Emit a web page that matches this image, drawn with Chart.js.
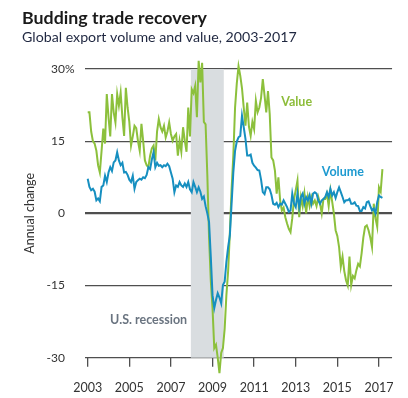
<!DOCTYPE html>
<html>
<head>
<meta charset="utf-8">
<script src="https://cdn.jsdelivr.net/npm/chart.js@4"></script>
<style>
    html, body { margin: 0; padding: 0; background: #fff; }
    #wrap { width: 408px; height: 398px; position: relative; }
</style>
</head>
<body>
<div id="wrap"><canvas id="tradeChart"></canvas></div>
<script>
// data, one value per month from Jan 2003
const startYear = 2003;
const yearTicks = [2003, 2005, 2007, 2009, 2011, 2013, 2015, 2017];
const valueTicks = [-30, -15, 0, 15, 30];
const recession = [2007 + 11.5 / 12, 2009 + 6.5 / 12];

const valueSeries = [
    21, 21, 17, 15, 14.5, 13, 10, 8.5, 13, 17.6, 14.5, 24.8,
    20, 16, 24.8, 21, 18.9, 24.8, 22.4, 25.1, 20, 16.1, 26.1, 22,
    19, 14.1, 16, 18.2, 17.7, 15, 13, 18.6, 15, 11, 10, 9.6,
    12, 13.5, 14.1, 11, 17, 19.6, 17.9, 17, 18.2, 15.8, 17, 18.9,
    16.5, 15.1, 16, 16.5, 12, 15.1, 12.8, 17.9, 15.1, 12.8, 22, 16,
    25.8, 25, 26.5, 20, 31.7, 27.2, 31.3, 19, 18.5, 8, -5, -14,
    -19.7, -28, -27.3, -30, -33.2, -29, -28, -24, -17, -12, -4, 5,
    12, 22, 27, 30.6, 28.6, 26, 22, 18.2, 23, 18, 16.1, 19,
    17.5, 23.4, 21, 22, 24, 27.9, 24.5, 21, 25.4, 20.6, 11.6, 11,
    8.9, 4.1, 7.5, 2.7, 0.6, 1.2, -0.8, -2.1, -3.2, -3.9, -1, 2.9,
    4.8, 6.8, -0.8, 3.4, 1.5, 4.1, 0, 3.4, 1.5, 3.4, 2, 2.7,
    1.5, 3.4, 2.1, 0, 3, 3, 4.1, 1.5, 4.8, 2.5, 0, -3.5,
    -4.7, -7, -11.1, -9, -12, -13.9, -15, -9, -14.9, -13, -13.5, -11.8,
    -10.5, -11, -8.3, -5, -2.8, -2.5, -3.5, -5, -7, 2, -1, -2.8,
    5.4, 4.5, 9.2
];

const volumeSeries = [
    7.2, 5.5, 4.8, 5.1, 4.5, 2.7, 3.1, 2.5, 5.5, 5.8, 7.8, 6.5,
    8.5, 9.6, 8.8, 10.6, 11, 12.7, 11, 10, 10.5, 8.5, 8.6, 8,
    7, 6.5, 7.8, 5.1, 6.5, 6.9, 7.2, 7, 7.5, 7.3, 8, 9.6,
    9.2, 11.2, 12.7, 9.6, 10.5, 9.9, 10, 9.6, 10, 9.8, 10.3, 9.8,
    8.5, 7.2, 4.4, 5.8, 5.5, 6.5, 5.8, 5.5, 6.2, 5.5, 6.5, 5,
    4.4, 6.5, 5.5, 4.4, 5.4, 4.5, 3, 3.5, 1.5, 0, -1.8, -9,
    -17, -19.7, -18, -16.6, -17.5, -18.7, -14.9, -14.2, -10.1, -7, -4.6, 2,
    8.5, 13, 14.9, 15.8, 16.1, 20.3, 17.9, 15.5, 12, 12, 12.2, 10.5,
    9.9, 9.5, 9, 8.9, 7, 4.4, 4, 5.4, 5.4, 5, 3.8, 2,
    1.8, 2.2, 1.3, 2, 1.8, 2.7, 2, 1.3, 0.3, 0.6, 4.1, 2,
    1.3, 4.1, 1.3, 3.4, 4.1, 2, 3.4, 2.7, 3.8, 2, 4.1, 4.4,
    4.1, 2.7, 2, 2.7, 3, 3.4, 4.4, 3.4, 5.1, 3.7, 4.4, 3.2,
    4.4, 5.4, 4.4, 3.4, 2.3, 2.7, 2.7, 3, 2, 2, 2.3, 1.6,
    1.5, 0.5, 0.5, 1.3, 1, 2.3, 2.5, 1.5, 0.6, 1, 0, 2.3,
    3.7, 3.4, 3.2
];

// where the in-chart labels sit, in data units
const seriesLabels = [
    { text: 'Value', x: 2012.3, y: 23.2, color: '#8dbd3a', align: 'left' },
    { text: 'Volume', x: 2014.25, y: 8.5, color: '#1d9ad0', align: 'left' },
    { text: 'U.S. recession', x: 2007.78, y: -22.1, color: '#6a7480', align: 'right' }
];

const GREEN = '#8cc03c';
const BLUE = '#168fc0';
const GRID = '#4f4f4f';
const FONT = 'Lato, "Open Sans", sans-serif';

function toPoints(series) {
    return series.map((v, i) => ({ x: startYear + i / 12, y: v }));
}

const extras = {
    id: 'extras',
    beforeDatasetsDraw(chart) {
        const { ctx, chartArea, scales } = chart;
        const x0 = scales.x.getPixelForValue(recession[0]);
        const x1 = scales.x.getPixelForValue(recession[1]);
        ctx.save();
        ctx.fillStyle = '#d9dde0';
        ctx.fillRect(x0, chartArea.top, x1 - x0, chartArea.bottom - chartArea.top);
        ctx.restore();
    },
    afterDraw(chart) {
        const { ctx, chartArea, scales } = chart;
        ctx.save();
        ctx.textBaseline = 'middle';
        ctx.font = 'bold 12.5px ' + FONT;
        seriesLabels.forEach(l => {
            ctx.fillStyle = l.color;
            ctx.textAlign = l.align;
            ctx.fillText(l.text, scales.x.getPixelForValue(l.x), scales.y.getPixelForValue(l.y));
        });
        // percent sign hangs after the top tick label
        ctx.font = '12px ' + FONT;
        ctx.fillStyle = '#333';
        ctx.textAlign = 'left';
        ctx.fillText('%', chartArea.left - 20, scales.y.getPixelForValue(30));
        ctx.restore();
    }
};

new Chart(document.getElementById('tradeChart'), {
    type: 'line',
    data: {
        datasets: [
            { label: 'Volume', data: toPoints(volumeSeries), borderColor: BLUE, borderWidth: 2, pointRadius: 0, clip: false },
            { label: 'Value', data: toPoints(valueSeries), borderColor: GREEN, borderWidth: 2, pointRadius: 0, clip: false }
        ]
    },
    options: {
        responsive: true,
        maintainAspectRatio: false,
        animation: false,
        layout: { padding: { left: 22, right: 13, top: 0, bottom: 0 } },
        plugins: {
            legend: { display: false },
            tooltip: { enabled: false },
            title: {
                display: true, text: 'Budding trade recovery', align: 'start', color: '#1a1a1a',
                font: { family: FONT, size: 17.8, weight: 'bold' }, padding: { top: 7.3, bottom: 0.3 }
            },
            subtitle: {
                display: true, text: 'Global export volume and value, 2003-2017', align: 'start', color: '#1f2740',
                font: { family: FONT, size: 14.2 }, padding: { top: 0, bottom: 23 }
            }
        },
        scales: {
            x: {
                type: 'linear',
                min: 2002.87,
                max: 2017.63,
                afterBuildTicks: s => { s.ticks = yearTicks.map(v => ({ value: v })); },
                afterFit: s => { s.height = 40.3; },
                ticks: { callback: v => String(v), padding: 14, maxRotation: 0, autoSkip: false, color: '#333', font: { family: FONT, size: 12.5 } },
                grid: { drawOnChartArea: false, drawTicks: true, tickLength: 9, color: GRID, lineWidth: 1.3 },
                border: { display: false }
            },
            y: {
                min: -30,
                max: 30,
                afterBuildTicks: s => { s.ticks = valueTicks.map(v => ({ value: v })); },
                afterFit: s => { s.width = 63; },
                ticks: { callback: v => String(v), padding: 20, color: '#333', font: { family: FONT, size: 12 } },
                grid: { drawTicks: false, color: GRID, lineWidth: c => (c.tick && c.tick.value === 0 ? 2.2 : 1.2) },
                border: { display: false },
                title: { display: true, text: 'Annual change', color: '#333', font: { family: FONT, size: 12.5 }, padding: { top: 0, bottom: 0 } }
            }
        }
    },
    plugins: [extras]
});
</script>
</body>
</html>
